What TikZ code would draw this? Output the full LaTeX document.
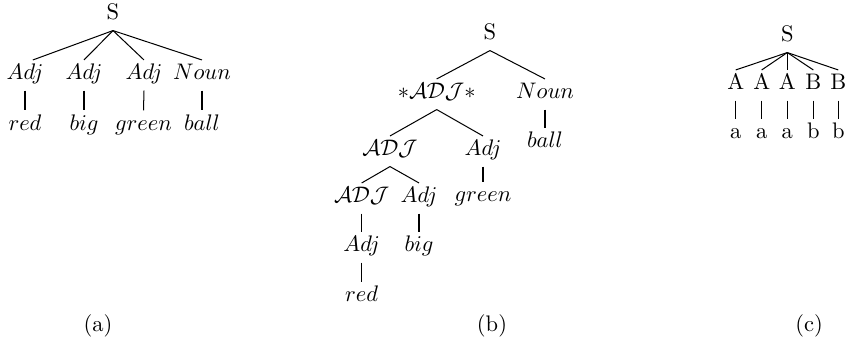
\documentclass[tikz,border=0pt]{standalone}
\begin{document}
\begin{tikzpicture}[x=0.4444pt,y=-0.4444pt,
  tn/.style={inner sep=0pt, outer xsep=0pt, outer ysep=2pt, text height=6.9pt, text depth=2.7pt, anchor=base},
  captext/.style={inner sep=0pt, anchor=base},
  edge/.style={line width=0.45pt}]
\useasboundingbox (0,0) rectangle (851,345);
% ---------- tree (a)
\node[tn] (aS) at (113,20) {S};
\node[tn] (aA1) at (25,80) {$Adj$};
\node[tn] (aA2) at (84,80) {$Adj$};
\node[tn] (aA3) at (144,80) {$Adj$};
\node[tn] (aN) at (202,80) {$Noun$};
\node[tn] (ar) at (25,130.5) {$red$};
\node[tn] (ab) at (84,130.5) {$big$};
\node[tn] (ag) at (143.5,130.5) {$green$};
\node[tn] (al) at (202,130.5) {$ball$};
\draw[edge] (aS.south) -- ([xshift=3.5pt]aA1.north);
\draw[edge] (aS.south) -- (aA2.north);
\draw[edge] (aS.south) -- (aA3.north);
\draw[edge] (aS.south) -- (aN.north);
\draw[edge] (aA1.south) -- (ar.north);
\draw[edge] (aA2.south) -- (ab.north);
\draw[edge] (aA3.south) -- (ag.north);
\draw[edge] (aN.south) -- (al.north);
\node[captext] (capa) at (98,332) {(a)};
% ---------- tree (b)
\node[tn] (bS) at (490,40) {S};
\node[tn] (bX) at (436.7,99) {$\ast\mathcal{ADJ}\ast$};
\node[tn] (bN) at (545,99) {$Noun$};
\node[tn] (bl) at (545,148) {$ball$};
\node[tn] (bJ3) at (390,156) {$\mathcal{ADJ}$};
\node[tn] (bA3) at (483,156) {$Adj$};
\node[tn] (bg) at (483,202) {$green$};
\node[tn] (bJ4) at (361.7,203) {$\mathcal{ADJ}$};
\node[tn] (bA4) at (419,203) {$Adj$};
\node[tn] (bA5) at (361.7,252) {$Adj$};
\node[tn] (bb) at (419,252) {$big$};
\node[tn] (br) at (361.7,302) {$red$};
\draw[edge] (bS.south) -- (bX.north);
\draw[edge] (bS.south) -- (bN.north);
\draw[edge] (bN.south) -- (bl.north);
\draw[edge] (bX.south) -- (bJ3.north);
\draw[edge] (bX.south) -- (bA3.north);
\draw[edge] (bA3.south) -- (bg.north);
\draw[edge] (bJ3.south) -- (bJ4.north);
\draw[edge] (bJ3.south) -- (bA4.north);
\draw[edge] (bJ4.south) -- (bA5.north);
\draw[edge] (bA4.south) -- (bb.north);
\draw[edge] (bA5.south) -- (br.north);
\node[captext] (capb) at (492,332) {(b)};
% ---------- tree (c)
\node[tn] (cS) at (787.3,42) {S};
\node[tn] (c1) at (735.7,90) {A};
\node[tn] (c2) at (761.7,90) {A};
\node[tn] (c3) at (787.3,90) {A};
\node[tn] (c4) at (813.3,90) {B};
\node[tn] (c5) at (838.3,90) {B};
\node[tn] (l1) at (735.7,139) {a};
\node[tn] (l2) at (761.7,139) {a};
\node[tn] (l3) at (787.3,139) {a};
\node[tn] (l4) at (813.3,139) {b};
\node[tn] (l5) at (838.3,139) {b};
\foreach \i in {1,...,5} {
  \draw[edge] (cS.south) -- (c\i.north);
  \draw[edge] (c\i.south) -- (l\i.north);
}
\node[captext] (capc) at (809,332) {(c)};
\end{tikzpicture}
\end{document}
